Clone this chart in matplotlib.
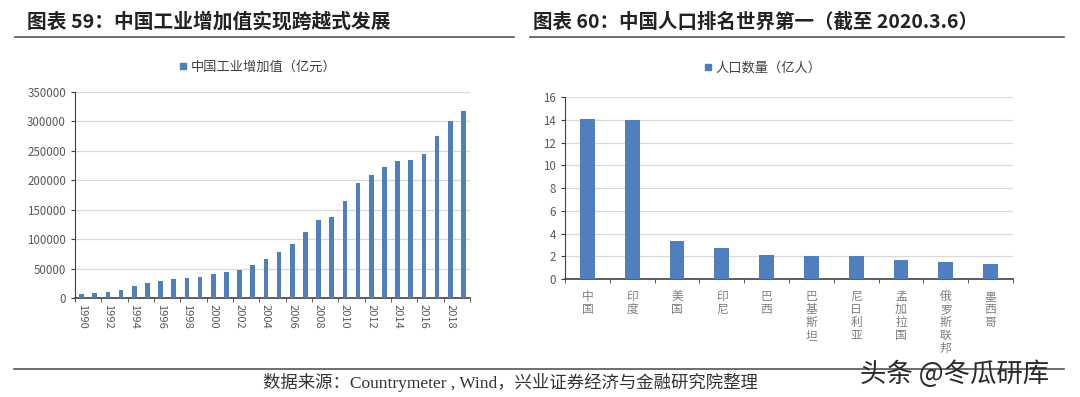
import numpy as np
import matplotlib
matplotlib.use("Agg")
import matplotlib.pyplot as plt
from matplotlib.lines import Line2D

plt.rcParams['font.family'] = ['Noto Sans CJK SC', 'DejaVu Sans']

# 中国工业增加值（亿元）
years = list(range(1990, 2020))
industry_value = [6905, 8139, 10341, 14248, 19547, 25024, 29530, 33032, 34134, 36016,
                  40259, 43856, 47776, 55364, 65776, 77961, 92238, 111694, 131728, 138096,
                  165126, 195143, 208906, 222338, 233197, 234969, 245406, 275119, 301089, 317109]
year_labels = [str(y) if (y - 1990) % 2 == 0 else '' for y in years]

# 人口数量（亿人）
countries = ['中国', '印度', '美国', '印尼', '巴西', '巴基斯坦', '尼日利亚', '孟加拉国', '俄罗斯联邦', '墨西哥']
population = [14.09, 13.97, 3.31, 2.73, 2.12, 2.06, 2.01, 1.65, 1.46, 1.28]

BLUE = '#4F7FBF'
AXIS = '#404040'
GRID = '#D9D9D9'
TICK = '#595959'

W, H = 1080, 397
fig = plt.figure(figsize=(W / 100, H / 100), dpi=100)
fig.patch.set_facecolor('white')


def px(x0, y0, x1, y1):
    # pixel box (top-left origin) -> figure fraction rect
    return [x0 / W, (H - y1) / H, (x1 - x0) / W, (y1 - y0) / H]


# ---------- titles and rules ----------
fig.text(27 / W, 1 - 22 / H, '图表 59：中国工业增加值实现跨越式发展', fontsize=14.2,
         fontweight='bold', color='#222222', va='center', ha='left')
fig.text(533 / W, 1 - 22 / H, '图表 60：中国人口排名世界第一（截至 2020.3.6）', fontsize=14,
         fontweight='bold', color='#222222', va='center', ha='left')
for x0, x1 in [(15, 514), (530, 1064)]:
    fig.add_artist(Line2D([x0 / W, x1 / W], [1 - 37 / H] * 2, color='#555555', lw=1.2))
fig.add_artist(Line2D([14 / W, 1064 / W], [1 - 369 / H] * 2, color='#555555', lw=1.2))

# ---------- left chart ----------
ax1 = fig.add_axes(px(75, 92, 470, 298))
x1 = np.arange(len(years))
ax1.bar(x1, industry_value, width=0.36, color=BLUE, zorder=3)
ax1.set_xlim(-0.5, len(years) - 0.5)
ax1.set_ylim(0, 350000)
ax1.set_yticks(np.arange(0, 350001, 50000))
ax1.set_xticks(x1)
ax1.set_xticklabels(year_labels, rotation=270, fontsize=8, color=TICK)
ax1.set_xticks(np.arange(-0.5, len(years), 2), minor=True)
ax1.tick_params(axis='x', which='major', length=0, pad=4)
ax1.tick_params(axis='x', which='minor', length=3, color=AXIS, direction='out')
ax1.tick_params(axis='y', labelsize=8.3, labelcolor=TICK, length=3, color=AXIS)
ax1.grid(axis='y', color=GRID, lw=0.9, zorder=0)

# ---------- right chart ----------
ax2 = fig.add_axes(px(565, 97, 1013, 279))
x2 = np.arange(len(countries))
ax2.bar(x2, population, width=0.33, color=BLUE, zorder=3)
ax2.set_xlim(-0.5, len(countries) - 0.5)
ax2.set_ylim(0, 16)
ax2.set_yticks(np.arange(0, 17, 2))
ax2.set_xticks(x2)
ax2.set_xticklabels(['\n'.join(c) for c in countries], fontsize=8.5, color='#7F7F7F',
                    linespacing=1.0, va='top')
ax2.set_xticks(np.arange(-0.5, len(countries), 1), minor=True)
ax2.tick_params(axis='x', which='major', length=0, pad=8)
ax2.tick_params(axis='x', which='minor', length=3, color=AXIS, direction='out')
ax2.tick_params(axis='y', labelsize=8.3, labelcolor=TICK, length=3, color=AXIS)
ax2.grid(axis='y', color=GRID, lw=0.9, zorder=0)

for ax in (ax1, ax2):
    for s in ('top', 'right'):
        ax.spines[s].set_visible(False)
    ax.spines['left'].set_color(AXIS)
    ax.spines['bottom'].set_color(AXIS)
    ax.spines['bottom'].set_linewidth(1.2)
    ax.set_axisbelow(True)

# legends
ax1.legend(handles=[Line2D([], [], marker='s', ls='none', color=BLUE, markersize=4.5)],
           labels=['中国工业增加值（亿元）'], loc='lower center', bbox_to_anchor=(0.46, 1.03),
           frameon=False, fontsize=9.5, handletextpad=0.2, handlelength=0.8,
           labelcolor='#404040')
ax2.legend(handles=[Line2D([], [], marker='s', ls='none', color=BLUE, markersize=5)],
           labels=['人口数量（亿人）'], loc='lower center', bbox_to_anchor=(0.44, 1.06),
           frameon=False, fontsize=9.5, handletextpad=0.2, handlelength=0.8,
           labelcolor='#404040')

# ---------- source and watermark ----------
fig.text(263 / W, 1 - 382 / H, '数据来源：Countrymeter , Wind，兴业证券经济与金融研究院整理',
         fontsize=12.5, color='#333333', va='center', ha='left',
         family=['Liberation Serif', 'Noto Sans CJK SC'])
fig.text(860 / W, 1 - 374 / H, '头条 @冬瓜研库', fontsize=19, color='#2A2A2A',
         va='center', ha='left')

fig.savefig('out.png', dpi=100, facecolor='white')
